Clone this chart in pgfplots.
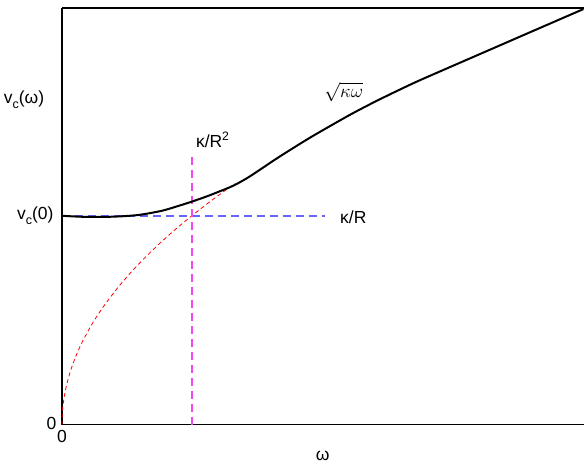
\documentclass[border=0pt]{standalone}
\usepackage{fontspec}
\setmainfont{Liberation Sans}
\usepackage{pgfplots}
\pgfplotsset{compat=1.18}
\usetikzlibrary{calc}
\definecolor{mymag}{RGB}{245,70,245}
\newcommand{\sub}[1]{\raisebox{-0.5ex}{\fontsize{12.5}{13}\selectfont #1}}
\begin{document}
\begin{tikzpicture}[every node/.style={font=\fontsize{17.5}{20}\selectfont}]
\begin{axis}[
  scale only axis,
  width=523pt, height=417pt,
  xmin=0, xmax=523, ymin=0, ymax=417,
  axis line style={draw=none},
  xtick=\empty, ytick=\empty,
  clip=false,
]
\draw[line width=1.2pt] (axis cs:0,417) -- (axis cs:0,0) -- (axis cs:523,0);
\draw[line width=1.2pt] (axis cs:0,417) -- (axis cs:523,417);
% red sqrt asymptote
\addplot[red, line width=0.8pt, smooth, dash pattern=on 4pt off 3pt] coordinates {
(0,0) (0.5,12.96) (1,18.33) (2,25.92) (4,36.66) (7,48.5) (10,57.96) (15,70.99) (20,81.97)
(30,100.4) (40,115.9) (55,135.9) (70,153.4) (85,169.0) (100,183.3) (115,196.6)
(130,209.0) (145,220.7) (160,231.9) (173,241.1)};
% blue horizontal
\addplot[blue!60, line width=1.5pt, dash pattern=on 8pt off 5pt] coordinates {(0,209) (263,209)};
% magenta vertical
\addplot[mymag, line width=1.5pt, dash pattern=on 8pt off 5pt] coordinates {(130,0) (130,270)};
% black curve
\addplot[black, line width=2pt, smooth, tension=0.5] coordinates {
(0,209) (20,208) (40,207.8) (60,208.5) (78,210) (100,214) (118,219.3) (131,223.5)
(144.7,228.3) (158,233.5) (171.3,239) (185,246.5) (198,255) (218,268.3) (244.7,285)
(264.7,296.7) (291.3,311.7) (318,325.5) (351.3,341.5) (378,353.3) (438,379.4)
(478,396.8) (522,415.9)};
\node[anchor=center] at (axis cs:-38,325) {v\sub{c}(ω)};
\node[anchor=east] at (axis cs:-5,209) {v\sub{c}(0)};
\node[anchor=east] at (axis cs:-2,1) {0};
\node[anchor=north] at (axis cs:0,-2) {0};
\node[anchor=north] at (axis cs:261,-23) {ω};
\node[anchor=center] at (axis cs:151,285) {κ/R\textsuperscript{2}};
\node[anchor=west] at (axis cs:275,208) {κ/R};
\node[anchor=center] at (axis cs:282,333) {\scalebox{1.1}{$\sqrt{\kappa\omega}$}};
\end{axis}
\path ($(current axis.south west)+(-62pt,-37pt)$) rectangle ($(current axis.north east)+(0pt,8pt)$);
\end{tikzpicture}
\end{document}
